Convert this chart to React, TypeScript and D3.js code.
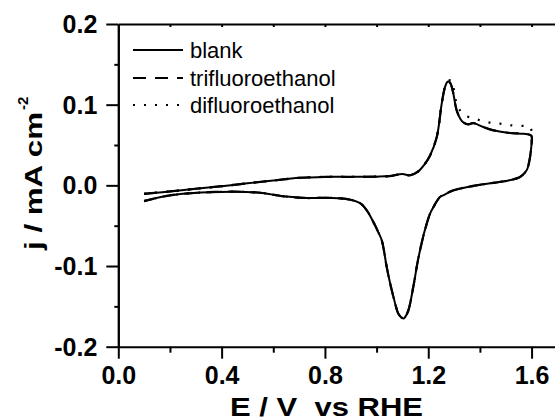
import { useEffect, useRef } from "react";
import * as d3 from "d3";

// anodic sweep of the blank CV (0.1 V -> 1.6 V)
const anodicE = [
  0.1, 0.2, 0.3, 0.4, 0.5, 0.6, 0.7, 0.8, 0.9, 1.0, 1.05, 1.1, 1.13, 1.16, 1.19, 1.207,
  1.233, 1.252, 1.265, 1.275, 1.285, 1.295, 1.31, 1.325, 1.336, 1.355, 1.374, 1.413,
  1.452, 1.516, 1.568, 1.594, 1.6,
];
const anodicJ = [
  -0.0105, -0.0075, -0.0042, -0.001, 0.0025, 0.006, 0.0093, 0.0105, 0.0105, 0.0108, 0.0115,
  0.014, 0.0125, 0.017, 0.028, 0.037, 0.06, 0.101, 0.122, 0.1285, 0.127, 0.117, 0.093,
  0.082, 0.078, 0.0756, 0.0772, 0.0723, 0.0682, 0.0649, 0.064, 0.0625, 0.061,
];

// cathodic (return) sweep, 1.6 V -> 0.1 V
const cathodicE = [
  1.598, 1.59, 1.581, 1.555, 1.51, 1.45, 1.387, 1.297, 1.26, 1.245, 1.22, 1.207, 1.19,
  1.18, 1.16, 1.142, 1.123, 1.11, 1.103, 1.095, 1.084, 1.065, 1.05, 1.039, 1.02, 1.005,
  0.994, 0.962, 0.936, 0.897, 0.85, 0.8, 0.73, 0.64, 0.55, 0.45, 0.35, 0.25, 0.18, 0.1,
];
const cathodicJ = [
  0.045, 0.028, 0.0186, 0.0103, 0.006, 0.003, 0.0, -0.0062, -0.012, -0.0145, -0.027,
  -0.035, -0.052, -0.064, -0.093, -0.126, -0.155, -0.1635, -0.165, -0.1635, -0.159,
  -0.138, -0.118, -0.101, -0.068, -0.057, -0.0496, -0.031, -0.022, -0.0177, -0.016,
  -0.0155, -0.0157, -0.0136, -0.0092, -0.0078, -0.0085, -0.0105, -0.0135, -0.0195,
];

// difluoroethanol differs from blank only above the anodic peak
const difluoroTopE = [1.275, 1.29, 1.3, 1.31, 1.325, 1.342, 1.381, 1.426, 1.478, 1.523, 1.575, 1.595, 1.6];
const difluoroTopJ = [0.129, 0.13, 0.118, 0.101, 0.092, 0.0867, 0.0826, 0.0785, 0.0764, 0.0743, 0.0735, 0.072, 0.066];

const seriesNames = ["blank", "trifluoroethanol", "difluoroethanol"];
const seriesDash = ["none", "13,9", "2,9"];

const xMajorTicks = [0, 0.4, 0.8, 1.2, 1.6];
const xMinorTicks = [0.2, 0.6, 1.0, 1.4];
const xTopTicks = [0.2, 0.4, 0.6, 0.8, 1.0, 1.2, 1.4, 1.6];
const yMajorTicks = [-0.2, -0.1, 0, 0.1, 0.2];
const yMinorTicks = [-0.15, -0.05, 0.05, 0.15];

type Pt = [number, number];
const zip = (es: number[], js: number[]): Pt[] => es.map((e, i) => [e, js[i]]);

export default function App() {
  const svgRef = useRef<SVGSVGElement | null>(null);

  useEffect(() => {
    if (!svgRef.current) return;
    const svg = d3.select(svgRef.current);
    svg.selectAll("*").remove();

    const font = "Arial, 'Liberation Sans', sans-serif";
    const x = d3.scaleLinear().domain([0, 1.7]).range([118.3, 557.4]);
    const y = d3.scaleLinear().domain([-0.2, 0.2]).range([346.7, 24]);

    const blank = [...zip(anodicE, anodicJ), ...zip(cathodicE, cathodicJ)];
    const trifluoro = blank; // coincides with blank in the figure
    const difluoro = [
      ...zip(anodicE, anodicJ).filter((d) => d[0] < 1.27),
      ...zip(difluoroTopE, difluoroTopJ),
      ...zip(cathodicE, cathodicJ),
    ];
    const series = [blank, trifluoro, difluoro];

    const line = d3
      .line<Pt>()
      .x((d) => x(d[0]))
      .y((d) => y(d[1]))
      .curve(d3.curveCatmullRom.alpha(0.5));

    series.forEach((pts, i) => {
      svg
        .append("path")
        .datum(pts)
        .attr("d", line)
        .attr("fill", "none")
        .attr("stroke", "#000")
        .attr("stroke-width", i === 0 ? 2 : 2.2)
        .attr("stroke-dasharray", seriesDash[i])
        .attr("stroke-linejoin", "round");
    });

    const fmt = (d: d3.NumberValue) => (+d).toFixed(1);

    const styleAxis = (g: d3.Selection<SVGGElement, unknown, null, undefined>) => {
      g.selectAll("path,line").attr("stroke", "#000").attr("stroke-width", 2);
      g.selectAll("text")
        .attr("fill", "#000")
        .attr("font-size", 25)
        .attr("font-weight", "bold")
        .attr("font-family", font);
    };

    // bottom
    svg
      .append("g")
      .attr("transform", `translate(0,${y(-0.2)})`)
      .call(d3.axisBottom(x).tickValues(xMajorTicks).tickSize(12).tickSizeOuter(0).tickPadding(8).tickFormat(fmt))
      .call(styleAxis)
      .call((g) => g.select(".domain").remove());
    svg
      .append("g")
      .attr("transform", `translate(0,${y(-0.2)})`)
      .call(d3.axisBottom(x).tickValues(xMinorTicks).tickSize(6).tickSizeOuter(0).tickFormat(() => ""))
      .call(styleAxis);

    // top
    svg
      .append("g")
      .attr("transform", `translate(0,${y(0.2)})`)
      .call(d3.axisTop(x).tickValues(xTopTicks).tickSize(-3).tickSizeOuter(0).tickFormat(() => ""))
      .call(styleAxis);

    // left
    svg
      .append("g")
      .attr("transform", `translate(${x(0)},0)`)
      .call(d3.axisLeft(y).tickValues(yMajorTicks).tickSize(12).tickSizeOuter(0).tickPadding(9).tickFormat(fmt))
      .call(styleAxis)
      .call((g) => g.selectAll("text").attr("dy", "0.34em"));
    svg
      .append("g")
      .attr("transform", `translate(${x(0)},0)`)
      .call(d3.axisLeft(y).tickValues(yMinorTicks).tickSize(4).tickSizeOuter(0).tickFormat(() => ""))
      .call(styleAxis);

    // right (mostly off-canvas)
    svg
      .append("g")
      .attr("transform", `translate(${x(1.7)},0)`)
      .call(d3.axisRight(y).tickValues([]).tickSizeOuter(0))
      .call(styleAxis);

    // axis titles
    svg
      .append("text")
      .attr("x", 326.5)
      .attr("y", 415.5)
      .attr("text-anchor", "middle")
      .attr("font-family", font)
      .attr("font-size", 26)
      .attr("font-weight", "bold")
      .attr("textLength", 193)
      .attr("lengthAdjust", "spacingAndGlyphs")
      .style("white-space", "pre")
      .text("E / V  vs RHE");

    svg
      .append("text")
      .attr("transform", "translate(42,250) rotate(-90)")
      .attr("font-family", font)
      .attr("font-size", 24)
      .attr("font-weight", "bold")
      .attr("textLength", 138)
      .attr("lengthAdjust", "spacingAndGlyphs")
      .text("j / mA cm");
    svg
      .append("text")
      .attr("transform", "translate(28,110) rotate(-90)")
      .attr("font-family", font)
      .attr("font-size", 15)
      .attr("font-weight", "bold")
      .text("-2");

    // legend
    const rowY = [50, 78, 105];
    seriesNames.forEach((name, i) => {
      svg
        .append("line")
        .attr("x1", 133)
        .attr("x2", 183)
        .attr("y1", rowY[i])
        .attr("y2", rowY[i])
        .attr("stroke", "#000")
        .attr("stroke-width", i === 0 ? 2 : 2.2)
        .attr("stroke-dasharray", seriesDash[i]);
      svg
        .append("text")
        .attr("x", 190)
        .attr("y", rowY[i] + 7.5)
        .attr("font-family", font)
        .attr("font-size", 22)
        .attr("fill", "#000")
        .text(name);
    });
  }, []);

  return (
    <svg
      ref={svgRef}
      width={555}
      height={420}
      style={{ position: "absolute", left: 0, top: 0, background: "#fff" }}
    ></svg>
  );
}
